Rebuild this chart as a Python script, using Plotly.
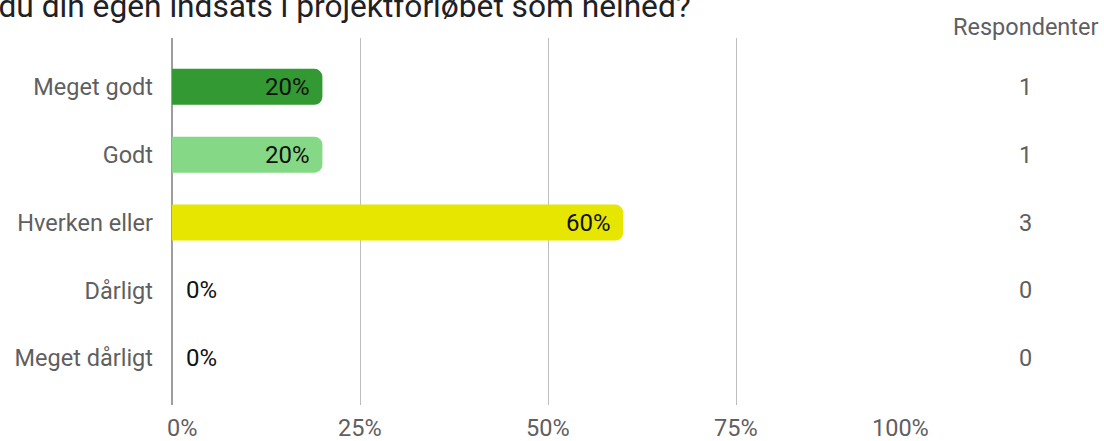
import plotly.graph_objects as go

title_text = "Hvordan vurderer du din egen indsats i projektforløbet som helhed?"
categories = ["Meget godt", "Godt", "Hverken eller", "Dårligt", "Meget dårligt"]
percent = [20, 20, 60, 0, 0]
respondents = [1, 1, 3, 0, 0]
colors = ["#339933", "#85d885", "#e6e600", "#cccccc", "#999999"]
tick_vals = [0, 25, 50, 75, 100]
tick_text = ["0%", "25%", "50%", "75%", "100%"]
count_header = "Respondenter"

FONT = "Roboto"
GREY = "#5f5f5f"

# plot area in pixels
L, R, T, B, W, H = 172, 180, 38, 36, 1104, 441
PW, PH = W - L - R, H - T - B

fig = go.Figure()
fig.add_trace(go.Bar(
    x=percent, y=categories, orientation="h",
    marker=dict(color=colors, line=dict(width=0)),
    width=0.53, hoverinfo="skip", showlegend=False,
))

ann = []
# bar value labels
for c, p in zip(categories, percent):
    if p > 0:
        ann.append(dict(x=p, y=c, xref="x", yref="y", text=f"{p}%", showarrow=False,
                        xanchor="right", xshift=-10, font=dict(family=FONT, size=24, color="#111111")))
    else:
        ann.append(dict(x=p, y=c, xref="x", yref="y", text=f"{p}%", showarrow=False,
                        xanchor="left", xshift=12, font=dict(family=FONT, size=24, color="#111111")))
# respondent counts
cx = (1025 - L) / PW
for c, n in zip(categories, respondents):
    ann.append(dict(x=cx, y=c, xref="paper", yref="y", text=str(n), showarrow=False,
                    xanchor="center", font=dict(family=FONT, size=23.5, color=GREY)))
ann.append(dict(x=cx, y=1, xref="paper", yref="paper", yshift=11, text=count_header, showarrow=False,
                xanchor="center", yanchor="middle", font=dict(family=FONT, size=23.5, color=GREY)))
# x tick labels
for i, (v, t) in enumerate(zip(tick_vals, tick_text)):
    if i == 0:
        anchor, xs = "left", -7
    elif i == len(tick_vals) - 1:
        anchor, xs = "right", 7
    else:
        anchor, xs = "center", 0
    ann.append(dict(x=v, y=0, xref="x", yref="paper", yshift=-23, xshift=xs, text=t, showarrow=False,
                    xanchor=anchor, yanchor="middle",
                    font=dict(family=FONT, size=23.5, color=GREY)))
# title (cut off at the top-left like the reference)
ann.append(dict(x=(693 - L) / PW, y=(H - B - 6) / PH, xref="paper", yref="paper", text=title_text,
                showarrow=False, xanchor="right", yanchor="middle",
                font=dict(family=FONT, size=31.7, color="#202124")))

fig.update_layout(
    width=W, height=H,
    margin=dict(l=L, r=R, t=T, b=B, autoexpand=False),
    plot_bgcolor="white", paper_bgcolor="white",
    barcornerradius=8,
    font=dict(family=FONT, size=23.5, color=GREY),
    xaxis=dict(range=[0, 100], tickvals=tick_vals, showticklabels=False,
               showgrid=True, gridcolor="#bdbdbd", gridwidth=1,
               zeroline=True, zerolinecolor="#9e9e9e", zerolinewidth=2,
               showline=False, fixedrange=True),
    yaxis=dict(categoryorder="array", categoryarray=categories, range=[4.69, -0.72],
               showgrid=False, zeroline=False, showline=False,
               ticks="", ticklabelstandoff=18,
               tickfont=dict(family=FONT, size=23.5, color=GREY), fixedrange=True),
    annotations=ann,
)

fig.write_html("out.html", config={"displayModeBar": False},
               post_script="document.body.style.margin='0';")
